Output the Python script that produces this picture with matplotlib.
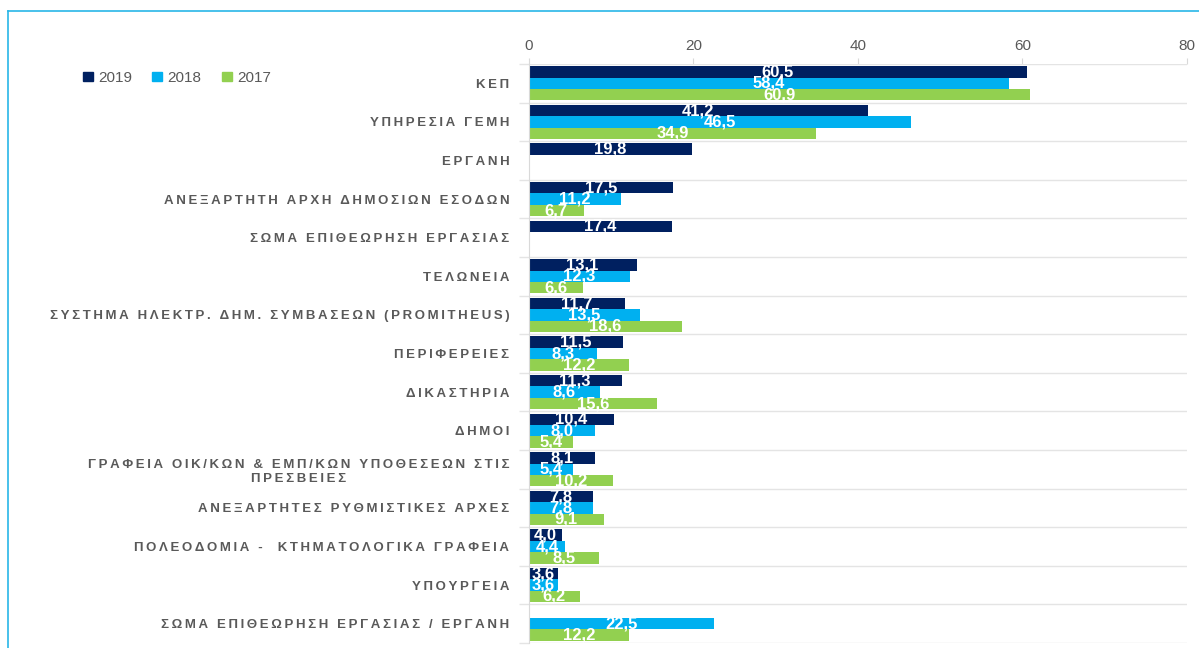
import numpy as np
import matplotlib.pyplot as plt
from matplotlib.patches import Patch
from matplotlib.lines import Line2D

categories = [
    'ΚΕΠ',
    'ΥΠΗΡΕΣΙΑ ΓΕΜΗ',
    'ΕΡΓΑΝΗ',
    'ΑΝΕΞΑΡΤΗΤΗ ΑΡΧΗ ΔΗΜΟΣΙΩΝ ΕΣΟΔΩΝ',
    'ΣΩΜΑ ΕΠΙΘΕΩΡΗΣΗ ΕΡΓΑΣΙΑΣ',
    'ΤΕΛΩΝΕΙΑ',
    'ΣΥΣΤΗΜΑ ΗΛΕΚΤΡ. ΔΗΜ. ΣΥΜΒΑΣΕΩΝ (PROMITHEUS)',
    'ΠΕΡΙΦΕΡΕΙΕΣ',
    'ΔΙΚΑΣΤΗΡΙΑ',
    'ΔΗΜΟΙ',
    'ΓΡΑΦΕΙΑ ΟΙΚ/ΚΩΝ & ΕΜΠ/ΚΩΝ ΥΠΟΘΕΣΕΩΝ ΣΤΙΣ\nΠΡΕΣΒΕΙΕΣ',
    'ΑΝΕΞΑΡΤΗΤΕΣ ΡΥΘΜΙΣΤΙΚΕΣ ΑΡΧΕΣ',
    'ΠΟΛΕΟΔΟΜΙΑ -  ΚΤΗΜΑΤΟΛΟΓΙΚΑ ΓΡΑΦΕΙΑ',
    'ΥΠΟΥΡΓΕΙΑ',
    'ΣΩΜΑ ΕΠΙΘΕΩΡΗΣΗ ΕΡΓΑΣΙΑΣ / ΕΡΓΑΝΗ',
]
years = ['2019', '2018', '2017']
v2019 = [60.5, 41.2, 19.8, 17.5, 17.4, 13.1, 11.7, 11.5, 11.3, 10.4, 8.1, 7.8, 4.0, 3.6, np.nan]
v2018 = [58.4, 46.5, np.nan, 11.2, np.nan, 12.3, 13.5, 8.3, 8.6, 8.0, 5.4, 7.8, 4.4, 3.6, 22.5]
v2017 = [60.9, 34.9, np.nan, 6.7, np.nan, 6.6, 18.6, 12.2, 15.6, 5.4, 10.2, 9.1, 8.5, 6.2, 12.2]
colors = ['#002060', '#00B0F0', '#92D050']

plt.rcParams['font.family'] = ['Liberation Sans', 'DejaVu Sans']


def spaced(s):
    # imitate the letter spacing of the original labels
    return '\n'.join('\u2009'.join(line) for line in s.split('\n'))


fig = plt.figure(figsize=(11.99, 6.48), dpi=100)
ax = fig.add_axes([0.441, 0.0077, 0.549, 0.8935])

y = np.arange(len(categories))
h = 0.295
for k, (vals, c) in enumerate(zip([v2019, v2018, v2017], colors)):
    vals = np.array(vals)
    pos = y + (k - 1) * h
    bars = ax.barh(pos, vals, height=h, color=c, label=years[k])
    for b, v in zip(bars, vals):
        if np.isnan(v):
            continue
        ax.text(b.get_x() + b.get_width() / 2, b.get_y() + b.get_height() / 2,
                f'{v:.1f}'.replace('.', ','), ha='center', va='center',
                color='white', fontsize=12, fontweight='bold',
                family=['Liberation Sans Narrow', 'Liberation Sans'])

ax.set_xlim(0, 80)
ax.set_ylim(len(categories) - 0.5, -0.5)
ax.xaxis.tick_top()
ax.set_xticks([0, 20, 40, 60, 80])
ax.tick_params(axis='x', colors='#D9D9D9', labelcolor='#595959', labelsize=11,
               length=4, pad=4)
ax.set_yticks(y)
ax.set_yticklabels([spaced(c) for c in categories], ha='right',
                   multialignment='center')
ax.tick_params(axis='y', which='major', length=0, pad=14, labelcolor='#595959',
               labelsize=9.5)
for t in ax.get_yticklabels():
    t.set_fontweight('bold')
ax.set_yticks(np.arange(len(categories) + 1) - 0.5, minor=True)
ax.tick_params(axis='y', which='minor', length=7, color='#E4E4E4', width=1)
ax.grid(axis='y', which='minor', color='#E4E4E4', linewidth=1)
for s in ['top', 'right', 'bottom']:
    ax.spines[s].set_visible(False)
ax.spines['left'].set_color('#D9D9D9')
ax.set_axisbelow(True)

handles = [Patch(color=c) for c in colors]
fig.legend(handles, years, loc='center left', bbox_to_anchor=(0.058, 0.88),
           ncol=3, frameon=False, handlelength=0.65, handleheight=0.55,
           handletextpad=0.35, columnspacing=1.3, fontsize=11,
           labelcolor='#595959')

# light blue frame on top and left
fig.add_artist(Line2D([0.0067, 1.0], [0.983, 0.983], color='#29B6E8', lw=1.2))
fig.add_artist(Line2D([0.0067, 0.0067], [0.0, 0.983], color='#29B6E8', lw=1.2))

fig.savefig('out.png', dpi=100)
